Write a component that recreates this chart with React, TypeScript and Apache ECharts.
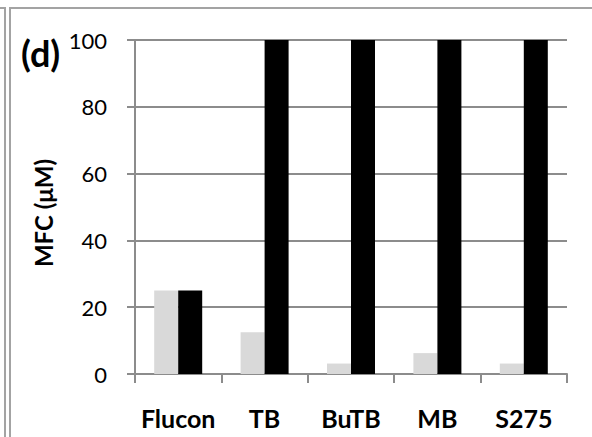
import React, { useEffect, useRef } from "react";
import * as echarts from "echarts";

const categories = ["Flucon", "TB", "BuTB", "MB", "S275"];
const seriesGray = [25, 12.5, 3.125, 6.25, 3.125];
const seriesBlack = [25, 100, 100, 100, 100];
const yTicks = { min: 0, max: 100, interval: 20 };
const panelLabel = "(d)";
const yAxisTitle = "MFC (μM)";

export default function App() {
  const ref = useRef<HTMLDivElement>(null);
  useEffect(() => {
    if (!ref.current) return;
    const chart = echarts.init(ref.current, undefined, { renderer: "svg" });
    const gridColor = "#8c8c8c";
    const frameColor = "#a3a3a3";
    chart.setOption({
      animation: false,
      backgroundColor: "#ffffff",
      grid: { left: 135, right: 25, top: 40, bottom: 63, containLabel: false },
      xAxis: {
        type: "category",
        data: categories,
        axisLine: { show: true, lineStyle: { color: gridColor, width: 2 } },
        axisTick: { show: true, interval: 0, length: 9, lineStyle: { color: gridColor, width: 2 } },
        axisLabel: {
          interval: 0,
          hideOverlap: false,
          margin: 31,
          fontFamily: "Lato",
          fontWeight: "bold",
          fontSize: 25,
          color: "#000",
        },
      },
      yAxis: {
        type: "value",
        min: yTicks.min,
        max: yTicks.max,
        interval: yTicks.interval,
        axisLine: { show: true, lineStyle: { color: gridColor, width: 2 } },
        axisTick: { show: true, length: 8, lineStyle: { color: gridColor, width: 2 } },
        splitLine: { show: true, lineStyle: { color: gridColor, width: 2 } },
        axisLabel: {
          margin: 28,
          fontFamily: "Lato",
          fontSize: 22,
          color: "#000",
        },
      },
      series: [
        {
          type: "bar",
          data: seriesGray,
          barWidth: 24,
          barGap: "0%",
          itemStyle: { color: "#d9d9d9" },
        },
        {
          type: "bar",
          data: seriesBlack,
          barWidth: 24,
          barGap: "0%",
          itemStyle: { color: "#000000" },
        },
      ],
      graphic: [
        {
          type: "polyline",
          shape: { points: [[0, 8], [5, 8], [5, 437]] },
          style: { stroke: frameColor, lineWidth: 2, fill: null },
        },
        {
          type: "polyline",
          shape: { points: [[10, 437], [10, 8], [592, 8]] },
          style: { stroke: frameColor, lineWidth: 2, fill: null },
        },
        {
          type: "text",
          left: 21,
          top: 35,
          style: {
            text: panelLabel,
            fontFamily: "Lato",
            fontWeight: "bold",
            fontSize: 36,
            fill: "#000",
          },
        },
        {
          type: "text",
          x: 43,
          y: 213,
          rotation: Math.PI / 2,
          style: {
            text: yAxisTitle,
            fontFamily: "Lato",
            fontWeight: "bold",
            fontSize: 24,
            fill: "#000",
            align: "center",
            verticalAlign: "middle",
          },
        },
      ],
    });
    return () => chart.dispose();
  }, []);
  return (
    <div
      ref={ref}
      style={{ position: "fixed", left: 0, top: 0, width: 592, height: 437 }}
    />
  );
}
